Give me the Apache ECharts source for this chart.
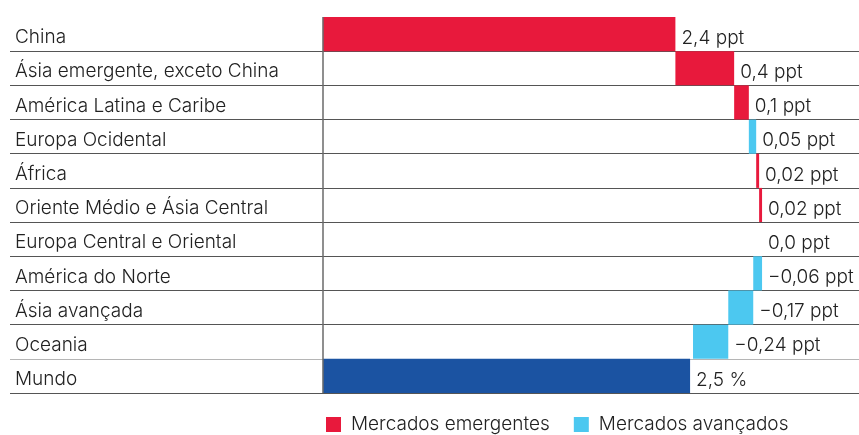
<!DOCTYPE html>
<html>
<head>
<meta charset="utf-8">
<script src="https://cdn.jsdelivr.net/npm/echarts@6/dist/echarts.min.js"></script>
<style>
  html, body { margin: 0; padding: 0; background: #fff; }
  #chart { width: 859px; height: 435px; }
</style>
</head>
<body>
<div id="chart"></div>
<script>
// regiões (de cima para baixo)
const categories = [
  "China",
  "Ásia emergente, exceto China",
  "América Latina e Caribe",
  "Europa Ocidental",
  "África",
  "Oriente Médio e Ásia Central",
  "Europa Central e Oriental",
  "América do Norte",
  "Ásia avançada",
  "Oceania",
];
const deltas = [2.4, 0.4, 0.1, 0.05, 0.02, 0.02, 0.0, -0.06, -0.17, -0.24];
// "em" = mercados emergentes, "adv" = mercados avançados
const groups = ["em", "em", "em", "adv", "em", "em", "em", "adv", "adv", "adv"];
const deltaLabels = [
  "2,4 ppt", "0,4 ppt", "0,1 ppt", "0,05 ppt", "0,02 ppt",
  "0,02 ppt", "0,0 ppt", "−0,06 ppt", "−0,17 ppt", "−0,24 ppt",
];
const totalName = "Mundo";
const totalValue = 2.5;
const totalLabel = "2,5 %";

const RED = "#e8193c";
const LIGHT_BLUE = "#4cc8f0";
const DARK_BLUE = "#1b53a2";
const FONT = "Inter";
const FONT_SIZE = 19;

// cascata: base invisível + barra visível
const baseData = [];
const emData = [];
const advData = [];
let running = 0;
deltas.forEach((d, i) => {
  const end = running + d;
  baseData.push(Math.min(running, end));
  emData.push(groups[i] === "em" ? Math.abs(d) : "-");
  advData.push(groups[i] === "adv" ? Math.abs(d) : "-");
  running = end;
});
baseData.push(0);
emData.push("-");
advData.push("-");
const totalData = deltas.map(() => "-").concat([totalValue]);

const allLabels = deltaLabels.concat([totalLabel]);

const valueLabel = {
  show: true,
  position: "right",
  distance: 6,
  offset: [0, 4],
  color: "#222",
  fontFamily: FONT,
  fontWeight: 300,
  fontSize: FONT_SIZE,
  formatter: (p) => allLabels[p.dataIndex],
};

const chart = echarts.init(document.getElementById("chart"));

chart.setOption({
  animation: false,
  grid: { left: 10, right: 0, top: 17, bottom: 42 },
  legend: {
    data: ["Mercados emergentes", "Mercados avançados"],
    left: 321,
    top: 410,
    icon: "rect",
    itemWidth: 15,
    itemHeight: 15,
    itemGap: 24,
    selectedMode: false,
    textStyle: {
      color: "#222",
      fontFamily: FONT,
      fontWeight: 300,
      fontSize: FONT_SIZE,
      padding: [0, 0, 0, 5],
    },
  },
  xAxis: {
    type: "value",
    min: -2.13,
    max: 3.65,
    show: false,
  },
  yAxis: {
    type: "category",
    inverse: true,
    data: categories.concat([totalName]),
    axisLine: { show: false },
    axisTick: { show: false },
    axisLabel: {
      inside: true,
      margin: 5,
      color: "#222",
      fontFamily: FONT,
      fontWeight: 300,
      fontSize: FONT_SIZE,
      verticalAlign: "top",
      lineHeight: 7,
    },
    splitLine: {
      show: true,
      interval: 0,
      lineStyle: {
        width: 1.2,
        color: [
          "transparent", "#555", "#555", "#555", "#555", "#555",
          "#555", "#555", "#555", "#555", "#b5b5b5", "#555",
        ],
      },
    },
  },
  series: [
    {
      name: "base",
      type: "bar",
      stack: "cascata",
      barWidth: "100%",
      itemStyle: { color: "transparent" },
      silent: true,
      data: baseData,
      markLine: {
        silent: true,
        symbol: ["none", "none"],
        label: { show: false },
        lineStyle: { color: "#6a6a6a", width: 1.5, type: "solid" },
        data: [{ xAxis: 0 }],
      },
    },
    {
      name: "Mercados emergentes",
      type: "bar",
      stack: "cascata",
      barWidth: "100%",
      itemStyle: { color: RED },
      label: valueLabel,
      data: emData,
    },
    {
      name: "Mercados avançados",
      type: "bar",
      stack: "cascata",
      barWidth: "100%",
      itemStyle: { color: LIGHT_BLUE },
      label: valueLabel,
      data: advData,
    },
    {
      name: totalName,
      type: "bar",
      stack: "cascata",
      barWidth: "100%",
      itemStyle: { color: DARK_BLUE },
      label: valueLabel,
      data: totalData,
    },
  ],
});
</script>
</body>
</html>
